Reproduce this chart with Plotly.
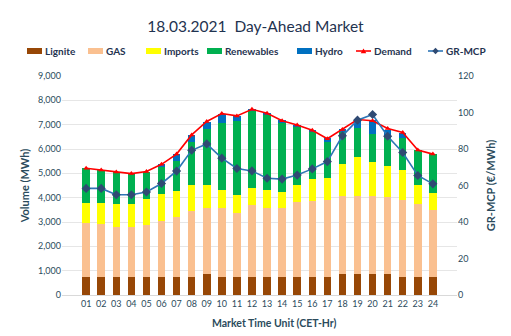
import plotly.graph_objects as go

# Market time units (CET hours)
hours = [f"{h:02d}" for h in range(1, 25)]

# Volumes per source (MWh)
lignite = [750, 750, 750, 750, 750, 750, 750, 750, 860, 750, 750, 750,
           750, 750, 750, 750, 750, 860, 860, 860, 860, 750, 750, 750]
gas = [2220, 2180, 2040, 2030, 2110, 2300, 2440, 2700, 2710, 2830, 2640, 2930,
       2830, 2830, 3070, 3120, 3135, 3190, 3200, 3200, 3180, 3150, 2985, 2750]
imports = [820, 860, 945, 955, 1080, 1110, 1080, 1090, 970, 730, 730, 710,
           730, 650, 720, 890, 905, 1350, 1620, 1400, 1270, 1245, 780, 700]
renewables = [1435, 1365, 1300, 1260, 1135, 1105, 1245, 1740, 2285, 2750, 3035, 3175,
              3075, 2845, 2395, 1945, 1515, 1300, 1200, 1175, 1190, 1325, 1435, 1585]
hydro = [0, 0, 0, 0, 0, 100, 275, 285, 300, 395, 220, 70,
         95, 110, 70, 95, 150, 135, 345, 575, 300, 190, 0, 0]

# Demand (MWh) and Greek market clearing price (EUR/MWh)
demand = [5210, 5140, 5050, 4990, 5075, 5370, 5790, 6580, 7130, 7460, 7360, 7630,
          7470, 7160, 6990, 6770, 6420, 6800, 7210, 7160, 6840, 6680, 5960, 5790]
gr_mcp = [58.4, 58.4, 54.9, 54.9, 56.4, 61.1, 67.9, 79.3, 82.8, 75.0, 69.3, 68.0,
          64.0, 63.5, 65.7, 69.1, 73.1, 87.2, 95.8, 98.9, 87.0, 78.1, 65.5, 60.9]

FONT = "Lato"
TXT = "#2b4b5c"
DARK = "#1f3350"
W, H = 511, 336
ML, MR, MT, MB = 62, 54, 76, 41
PW, PH = W - ML - MR, H - MT - MB

C_LIG, C_GAS, C_IMP, C_REN, C_HYD = "#974706", "#FAC090", "#FFFF00", "#00B050", "#0070C0"
C_DEM, C_MCP, C_MCP_MK = "#FF0000", "#2E75B6", "#2F4A73"


def px(x):
    return (x - ML) / PW


def py(y):
    return (H - MB - y) / PH


fig = go.Figure()

stack = [
    ("Lignite", lignite, C_LIG),
    ("GAS", gas, C_GAS),
    ("Imports", imports, C_IMP),
    ("Renewables", renewables, C_REN),
    ("Hydro", hydro, C_HYD),
]
for name, vals, color in stack:
    fig.add_trace(go.Bar(x=hours, y=vals, name=name, marker_color=color,
                         marker_line_width=0, showlegend=False))

fig.add_trace(go.Scatter(x=hours, y=demand, name="Demand", mode="lines+markers",
                         line=dict(color=C_DEM, width=1.6), showlegend=False,
                         marker=dict(symbol="triangle-up", size=5, color=C_DEM)))
fig.add_trace(go.Scatter(x=hours, y=gr_mcp, name="GR-MCP", mode="lines+markers",
                         yaxis="y2", showlegend=False,
                         line=dict(color=C_MCP, width=1.6),
                         marker=dict(symbol="diamond", size=7, color=C_MCP_MK)))

# Legend row drawn with shapes + text (single line above the plot)
shapes, annotations = [], []
LEG_Y = 51
legend_items = [
    ("Lignite", "box", C_LIG, 27),
    ("GAS", "box", C_GAS, 88),
    ("Imports", "box", C_IMP, 146),
    ("Renewables", "box", C_REN, 207),
    ("Hydro", "box", C_HYD, 297),
    ("Demand", "tri", C_DEM, 356),
    ("GR-MCP", "dia", C_MCP, 428),
]
for label, kind, color, x0 in legend_items:
    if kind == "box":
        shapes.append(dict(type="rect", xref="paper", yref="paper",
                           x0=px(x0), x1=px(x0 + 15), y0=py(LEG_Y + 3), y1=py(LEG_Y - 3),
                           fillcolor=color, line_width=0))
    else:
        shapes.append(dict(type="line", xref="paper", yref="paper",
                           x0=px(x0), x1=px(x0 + 15), y0=py(LEG_Y), y1=py(LEG_Y),
                           line=dict(color=color, width=1.6)))
        cx = x0 + 7.5
        if kind == "tri":
            pts = [(cx - 2.8, LEG_Y + 2.3), (cx + 2.8, LEG_Y + 2.3), (cx, LEG_Y - 2.6)]
            fill = C_DEM
        else:
            pts = [(cx, LEG_Y - 3.2), (cx + 3.2, LEG_Y), (cx, LEG_Y + 3.2), (cx - 3.2, LEG_Y)]
            fill = C_MCP_MK
        path = "M " + " L ".join(f"{px(a):.5f},{py(b):.5f}" for a, b in pts) + " Z"
        shapes.append(dict(type="path", xref="paper", yref="paper", path=path,
                           fillcolor=fill, line_width=0))
    annotations.append(dict(text=f"<b>{label}</b>", xref="paper", yref="paper",
                            x=px(x0 + 16), y=py(LEG_Y), xanchor="left", yanchor="middle",
                            showarrow=False, font=dict(family=FONT, size=10, color=DARK)))

# X axis title, placed as in the source layout
annotations.append(dict(text="<b>Market Time Unit (CET-Hr)</b>", xref="paper", yref="paper",
                        x=px(274), y=py(323), xanchor="center", yanchor="middle",
                        showarrow=False, font=dict(family=FONT, size=10.5, color=TXT)))

fig.update_layout(
    width=W, height=H,
    margin=dict(l=ML, r=MR, t=MT, b=MB),
    barmode="stack", bargap=0.5,
    showlegend=False,
    paper_bgcolor="white", plot_bgcolor="white",
    font=dict(family=FONT, color=TXT, size=10),
    title=dict(text="18.03.2021  Day-Ahead Market", x=0.5, xanchor="center",
               y=1 - 27 / H, yanchor="middle",
               font=dict(family=FONT, size=15.5, color=DARK)),
    shapes=shapes,
    annotations=annotations,
    xaxis=dict(showgrid=False, showline=True, linecolor="#d9d9d9",
               tickfont=dict(size=9, color=TXT), ticks=""),
    yaxis=dict(range=[0, 9000], dtick=1000, tickformat=",", showgrid=True,
               gridcolor="#e6e6e6", zeroline=False,
               tickfont=dict(size=9, color=TXT),
               title=dict(text="<b>Volume (MWh)</b>",
                          font=dict(size=11, color=TXT), standoff=6)),
    yaxis2=dict(range=[0, 120], dtick=20, overlaying="y", side="right",
                showgrid=False, zeroline=False,
                tickfont=dict(size=9, color=TXT),
                title=dict(text="<b>GR-MCP (€/MWh)</b>",
                           font=dict(size=11, color=TXT), standoff=14)),
)

fig.write_html("out.html")
